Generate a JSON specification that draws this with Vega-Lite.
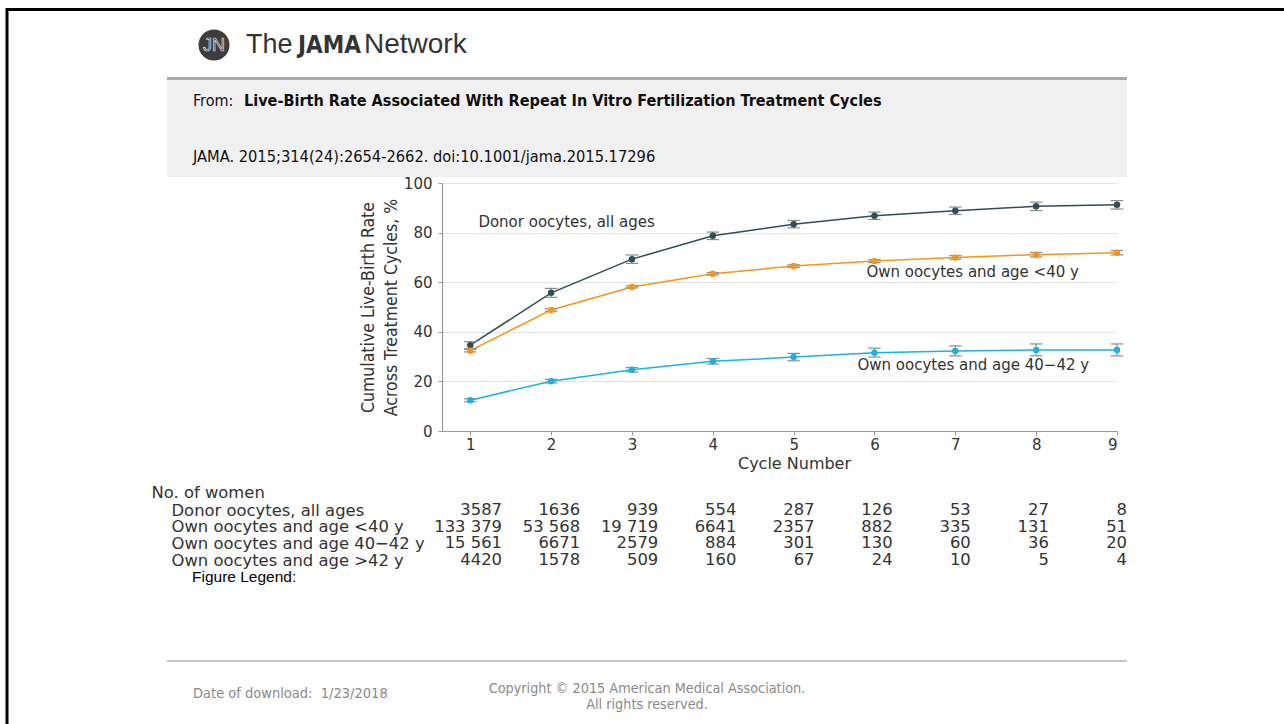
{
  "$schema": "https://vega.github.io/schema/vega-lite/v6.json",
  "width": 675,
  "height": 248,
  "autosize": {"type": "none"},
  "padding": {"left": 442, "top": 183, "right": 167, "bottom": 293},
  "background": "white",
  "config": {"view": {"stroke": null}, "font": "DejaVu Sans"},
  "datasets": {
    "rates": [
      {"cycle": 1, "group": "Donor oocytes, all ages", "rate": 34.6, "lo": 33.2, "hi": 36.0},
      {"cycle": 2, "group": "Donor oocytes, all ages", "rate": 55.7, "lo": 53.9, "hi": 57.5},
      {"cycle": 3, "group": "Donor oocytes, all ages", "rate": 69.3, "lo": 67.6, "hi": 71.0},
      {"cycle": 4, "group": "Donor oocytes, all ages", "rate": 78.7, "lo": 77.2, "hi": 80.2},
      {"cycle": 5, "group": "Donor oocytes, all ages", "rate": 83.4, "lo": 81.9, "hi": 84.9},
      {"cycle": 6, "group": "Donor oocytes, all ages", "rate": 86.8, "lo": 85.3, "hi": 88.3},
      {"cycle": 7, "group": "Donor oocytes, all ages", "rate": 88.8, "lo": 87.3, "hi": 90.3},
      {"cycle": 8, "group": "Donor oocytes, all ages", "rate": 90.6, "lo": 88.9, "hi": 92.3},
      {"cycle": 9, "group": "Donor oocytes, all ages", "rate": 91.2, "lo": 89.5, "hi": 92.9},
      {"cycle": 1, "group": "Own oocytes and age <40 y", "rate": 32.4, "lo": 31.9, "hi": 32.9},
      {"cycle": 2, "group": "Own oocytes and age <40 y", "rate": 48.8, "lo": 48.3, "hi": 49.3},
      {"cycle": 3, "group": "Own oocytes and age <40 y", "rate": 58.1, "lo": 57.7, "hi": 58.5},
      {"cycle": 4, "group": "Own oocytes and age <40 y", "rate": 63.4, "lo": 62.9, "hi": 63.9},
      {"cycle": 5, "group": "Own oocytes and age <40 y", "rate": 66.5, "lo": 66.0, "hi": 67.0},
      {"cycle": 6, "group": "Own oocytes and age <40 y", "rate": 68.5, "lo": 67.9, "hi": 69.1},
      {"cycle": 7, "group": "Own oocytes and age <40 y", "rate": 70.0, "lo": 69.3, "hi": 70.7},
      {"cycle": 8, "group": "Own oocytes and age <40 y", "rate": 71.1, "lo": 70.2, "hi": 72.0},
      {"cycle": 9, "group": "Own oocytes and age <40 y", "rate": 71.9, "lo": 71.0, "hi": 72.8},
      {"cycle": 1, "group": "Own oocytes and age 40−42 y", "rate": 12.4, "lo": 11.8, "hi": 13.0},
      {"cycle": 2, "group": "Own oocytes and age 40−42 y", "rate": 20.1, "lo": 19.4, "hi": 20.8},
      {"cycle": 3, "group": "Own oocytes and age 40−42 y", "rate": 24.7, "lo": 23.8, "hi": 25.6},
      {"cycle": 4, "group": "Own oocytes and age 40−42 y", "rate": 28.1, "lo": 27.0, "hi": 29.2},
      {"cycle": 5, "group": "Own oocytes and age 40−42 y", "rate": 29.8, "lo": 28.3, "hi": 31.3},
      {"cycle": 6, "group": "Own oocytes and age 40−42 y", "rate": 31.6, "lo": 29.8, "hi": 33.4},
      {"cycle": 7, "group": "Own oocytes and age 40−42 y", "rate": 32.3, "lo": 30.3, "hi": 34.3},
      {"cycle": 8, "group": "Own oocytes and age 40−42 y", "rate": 32.7, "lo": 30.3, "hi": 35.1},
      {"cycle": 9, "group": "Own oocytes and age 40−42 y", "rate": 32.7, "lo": 30.3, "hi": 35.1}
    ],
    "counts": [
      {"cycle": 1, "group": "Donor oocytes, all ages", "n": 3587, "label": "3587"},
      {"cycle": 2, "group": "Donor oocytes, all ages", "n": 1636, "label": "1636"},
      {"cycle": 3, "group": "Donor oocytes, all ages", "n": 939, "label": "939"},
      {"cycle": 4, "group": "Donor oocytes, all ages", "n": 554, "label": "554"},
      {"cycle": 5, "group": "Donor oocytes, all ages", "n": 287, "label": "287"},
      {"cycle": 6, "group": "Donor oocytes, all ages", "n": 126, "label": "126"},
      {"cycle": 7, "group": "Donor oocytes, all ages", "n": 53, "label": "53"},
      {"cycle": 8, "group": "Donor oocytes, all ages", "n": 27, "label": "27"},
      {"cycle": 9, "group": "Donor oocytes, all ages", "n": 8, "label": "8"},
      {"cycle": 1, "group": "Own oocytes and age <40 y", "n": 133379, "label": "133 379"},
      {"cycle": 2, "group": "Own oocytes and age <40 y", "n": 53568, "label": "53 568"},
      {"cycle": 3, "group": "Own oocytes and age <40 y", "n": 19719, "label": "19 719"},
      {"cycle": 4, "group": "Own oocytes and age <40 y", "n": 6641, "label": "6641"},
      {"cycle": 5, "group": "Own oocytes and age <40 y", "n": 2357, "label": "2357"},
      {"cycle": 6, "group": "Own oocytes and age <40 y", "n": 882, "label": "882"},
      {"cycle": 7, "group": "Own oocytes and age <40 y", "n": 335, "label": "335"},
      {"cycle": 8, "group": "Own oocytes and age <40 y", "n": 131, "label": "131"},
      {"cycle": 9, "group": "Own oocytes and age <40 y", "n": 51, "label": "51"},
      {"cycle": 1, "group": "Own oocytes and age 40−42 y", "n": 15561, "label": "15 561"},
      {"cycle": 2, "group": "Own oocytes and age 40−42 y", "n": 6671, "label": "6671"},
      {"cycle": 3, "group": "Own oocytes and age 40−42 y", "n": 2579, "label": "2579"},
      {"cycle": 4, "group": "Own oocytes and age 40−42 y", "n": 884, "label": "884"},
      {"cycle": 5, "group": "Own oocytes and age 40−42 y", "n": 301, "label": "301"},
      {"cycle": 6, "group": "Own oocytes and age 40−42 y", "n": 130, "label": "130"},
      {"cycle": 7, "group": "Own oocytes and age 40−42 y", "n": 60, "label": "60"},
      {"cycle": 8, "group": "Own oocytes and age 40−42 y", "n": 36, "label": "36"},
      {"cycle": 9, "group": "Own oocytes and age 40−42 y", "n": 20, "label": "20"},
      {"cycle": 1, "group": "Own oocytes and age >42 y", "n": 4420, "label": "4420"},
      {"cycle": 2, "group": "Own oocytes and age >42 y", "n": 1578, "label": "1578"},
      {"cycle": 3, "group": "Own oocytes and age >42 y", "n": 509, "label": "509"},
      {"cycle": 4, "group": "Own oocytes and age >42 y", "n": 160, "label": "160"},
      {"cycle": 5, "group": "Own oocytes and age >42 y", "n": 67, "label": "67"},
      {"cycle": 6, "group": "Own oocytes and age >42 y", "n": 24, "label": "24"},
      {"cycle": 7, "group": "Own oocytes and age >42 y", "n": 10, "label": "10"},
      {"cycle": 8, "group": "Own oocytes and age >42 y", "n": 5, "label": "5"},
      {"cycle": 9, "group": "Own oocytes and age >42 y", "n": 4, "label": "4"}
    ]
  },
  "layer": [
    {
      "data": {"name": "rates"},
      "mark": {"type": "line", "strokeWidth": 1.5},
      "encoding": {
        "x": {
          "field": "cycle", "type": "quantitative",
          "scale": {"domain": [0.65, 9], "nice": false, "zero": false},
          "axis": {
            "title": "Cycle Number", "values": [1, 2, 3, 4, 5, 6, 7, 8, 9], "format": "d", "grid": false,
            "domainColor": "#999999", "domainWidth": 1.2, "tickColor": "#999999", "tickSize": 4,
            "labelFont": "DejaVu Sans", "labelFontSize": 15, "labelColor": "#333333", "labelPadding": 2,
            "titleFont": "DejaVu Sans", "titleFontSize": 16, "titleFontWeight": "normal", "titleColor": "#333333",
            "titleX": 352, "titleY": 32, "titleBaseline": "middle", "titleAlign": "center"
          }
        },
        "y": {
          "field": "rate", "type": "quantitative",
          "scale": {"domain": [0, 100], "nice": false, "zero": false},
          "axis": {
            "title": ["Cumulative Live-Birth Rate", "Across Treatment Cycles, %"],
            "values": [0, 20, 40, 60, 80, 100], "grid": true,
            "domainColor": "#999999", "domainWidth": 1.2, "tickColor": "#999999", "tickSize": 4,
            "labelFont": "DejaVu Sans", "labelFontSize": 15, "labelColor": "#333333", "labelPadding": 6,
            "gridColor": "#e3e3e3", "gridWidth": 1.2,
            "titleFont": "DejaVu Sans Condensed", "titleFontSize": 17.5, "titleFontWeight": "normal", "titleColor": "#333333",
            "titleLineHeight": 23, "titleX": -74, "titleY": 124, "titleBaseline": "middle", "titleAlign": "center", "titleAngle": -90
          }
        },
        "color": {
          "field": "group", "type": "nominal",
          "scale": {"domain": ["Donor oocytes, all ages", "Own oocytes and age <40 y", "Own oocytes and age 40−42 y"], "range": ["#2f4e5a", "#f7941d", "#1ab0e8"]},
          "legend": null
        }
      }
    },
    {
      "data": {"name": "rates"},
      "mark": {"type": "rule", "strokeWidth": 1.2, "color": "#8c8c8c"},
      "encoding": {
        "x": {"field": "cycle", "type": "quantitative", "scale": {"domain": [0.65, 9], "nice": false, "zero": false}, "axis": null},
        "y": {"field": "lo", "type": "quantitative", "scale": {"domain": [0, 100], "nice": false, "zero": false}, "axis": null},
        "y2": {"field": "hi"}
      }
    },
    {
      "data": {"name": "rates"},
      "mark": {"type": "point", "shape": "M-1,0H1", "size": 156, "filled": false, "strokeWidth": 1.2, "opacity": 1, "color": "#8c8c8c"},
      "encoding": {
        "x": {"field": "cycle", "type": "quantitative", "scale": {"domain": [0.65, 9], "nice": false, "zero": false}, "axis": null},
        "y": {"field": "lo", "type": "quantitative", "scale": {"domain": [0, 100], "nice": false, "zero": false}, "axis": null}
      }
    },
    {
      "data": {"name": "rates"},
      "mark": {"type": "point", "shape": "M-1,0H1", "size": 156, "filled": false, "strokeWidth": 1.2, "opacity": 1, "color": "#8c8c8c"},
      "encoding": {
        "x": {"field": "cycle", "type": "quantitative", "scale": {"domain": [0.65, 9], "nice": false, "zero": false}, "axis": null},
        "y": {"field": "hi", "type": "quantitative", "scale": {"domain": [0, 100], "nice": false, "zero": false}, "axis": null}
      }
    },
    {
      "data": {"name": "rates"},
      "mark": {"type": "circle", "size": 42, "opacity": 1},
      "encoding": {
        "x": {"field": "cycle", "type": "quantitative", "scale": {"domain": [0.65, 9], "nice": false, "zero": false}, "axis": null},
        "y": {"field": "rate", "type": "quantitative", "scale": {"domain": [0, 100], "nice": false, "zero": false}, "axis": null},
        "color": {"field": "group", "type": "nominal", "legend": null}
      }
    },
    {
      "data": {"values": [{}]},
      "mark": {"type": "text", "text": "Donor oocytes, all ages", "fontSize": 15, "align": "left", "baseline": "middle", "color": "#333333"},
      "encoding": {
        "x": {"datum": 1.1, "type": "quantitative", "scale": {"domain": [0.65, 9], "nice": false, "zero": false}, "axis": null},
        "y": {"datum": 84.4, "type": "quantitative", "scale": {"domain": [0, 100], "nice": false, "zero": false}, "axis": null}
      }
    },
    {
      "data": {"values": [{}]},
      "mark": {"type": "text", "text": "Own oocytes and age <40 y", "fontSize": 15, "align": "left", "baseline": "middle", "color": "#333333"},
      "encoding": {
        "x": {"datum": 5.9, "type": "quantitative", "scale": {"domain": [0.65, 9], "nice": false, "zero": false}, "axis": null},
        "y": {"datum": 64.2, "type": "quantitative", "scale": {"domain": [0, 100], "nice": false, "zero": false}, "axis": null}
      }
    },
    {
      "data": {"values": [{}]},
      "mark": {"type": "text", "text": "Own oocytes and age 40−42 y", "fontSize": 15, "align": "left", "baseline": "middle", "color": "#333333"},
      "encoding": {
        "x": {"datum": 5.79, "type": "quantitative", "scale": {"domain": [0.65, 9], "nice": false, "zero": false}, "axis": null},
        "y": {"datum": 26.6, "type": "quantitative", "scale": {"domain": [0, 100], "nice": false, "zero": false}, "axis": null}
      }
    },
    {
      "data": {"name": "counts"},
      "mark": {"type": "text", "align": "right", "baseline": "middle", "fontSize": 16.4, "color": "#333333"},
      "encoding": {
        "x": {"field": "cycle", "type": "quantitative", "scale": {"domain": [1, 9], "range": [60, 685], "nice": false, "zero": false}, "axis": null},
        "y": {
          "field": "group", "type": "nominal",
          "scale": {"type": "point", "domain": ["Donor oocytes, all ages", "Own oocytes and age <40 y", "Own oocytes and age 40−42 y", "Own oocytes and age >42 y"], "range": [327, 377], "padding": 0},
          "axis": {
            "orient": "left", "offset": 271, "domain": false, "ticks": false, "tickSize": 0, "grid": false,
            "labelAlign": "left", "labelBaseline": "middle", "labelPadding": 0, "labelLimit": 0, "labelOverlap": false,
            "labelFont": "DejaVu Sans", "labelFontSize": 16.4, "labelColor": "#333333",
            "title": "No. of women", "titleAngle": 0, "titleAlign": "left", "titleBaseline": "middle",
            "titleX": -20, "titleY": 309.7, "titleFont": "DejaVu Sans", "titleFontSize": 16.4, "titleFontWeight": "normal", "titleColor": "#333333"
          }
        },
        "text": {"field": "label"}
      }
    },
    {
      "data": {"values": [{}]},
      "layer": [
        {"mark": {"type": "rule", "color": "#000000", "strokeWidth": 3}, "encoding": {"x": {"value": -436}, "x2": {"value": 842}, "y": {"value": -173.5}}},
        {"mark": {"type": "rule", "color": "#000000", "strokeWidth": 3}, "encoding": {"x": {"value": -435}, "y": {"value": -175}, "y2": {"value": 541}}},
        {"mark": {"type": "rect", "color": "#f0f0f0"}, "encoding": {"x": {"value": -275}, "x2": {"value": 685}, "y": {"value": -103}, "y2": {"value": -6}}},
        {"mark": {"type": "rule", "color": "#a9a9a9", "strokeWidth": 3}, "encoding": {"x": {"value": -275}, "x2": {"value": 685}, "y": {"value": -104.5}}},
        {"mark": {"type": "circle", "size": 960, "color": "#3d3d3d", "opacity": 1}, "encoding": {"x": {"value": -228}, "y": {"value": -138}}},
        {"mark": {"type": "text", "text": "JN", "font": "Liberation Sans", "fontSize": 18, "fill": "#3d3d3d", "stroke": "#dddddd", "strokeWidth": 0.7, "align": "center", "baseline": "middle"}, "encoding": {"x": {"value": -228}, "y": {"value": -137}}},
        {"mark": {"type": "text", "text": "The", "font": "Liberation Sans", "fontSize": 27, "color": "#333333", "align": "left", "baseline": "alphabetic"}, "encoding": {"x": {"value": -196}, "y": {"value": -130}}},
        {"mark": {"type": "text", "text": "JAMA", "font": "DejaVu Sans Condensed", "fontWeight": "bold", "fontSize": 24, "color": "#333333", "align": "left", "baseline": "alphabetic"}, "encoding": {"x": {"value": -144}, "y": {"value": -130}}},
        {"mark": {"type": "text", "text": "Network", "font": "Liberation Sans", "fontSize": 28, "color": "#333333", "align": "left", "baseline": "alphabetic"}, "encoding": {"x": {"value": -78}, "y": {"value": -130}}},
        {"mark": {"type": "text", "text": "From:", "font": "DejaVu Sans Condensed", "fontSize": 16, "color": "#111111", "align": "left", "baseline": "alphabetic"}, "encoding": {"x": {"value": -249}, "y": {"value": -77}}},
        {"mark": {"type": "text", "text": "Live-Birth Rate Associated With Repeat In Vitro Fertilization Treatment Cycles", "font": "DejaVu Sans Condensed", "fontWeight": "bold", "fontSize": 16.1, "color": "#111111", "align": "left", "baseline": "alphabetic"}, "encoding": {"x": {"value": -198}, "y": {"value": -77}}},
        {"mark": {"type": "text", "text": "JAMA. 2015;314(24):2654-2662. doi:10.1001/jama.2015.17296", "font": "DejaVu Sans Condensed", "fontSize": 16.3, "color": "#111111", "align": "left", "baseline": "alphabetic"}, "encoding": {"x": {"value": -249}, "y": {"value": -21}}},
        {"mark": {"type": "text", "text": "Figure Legend:", "font": "Liberation Sans", "fontSize": 15.5, "color": "#000000", "align": "left", "baseline": "middle"}, "encoding": {"x": {"value": -250}, "y": {"value": 394}}},
        {"mark": {"type": "rule", "color": "#b0b0b0", "strokeWidth": 1.5}, "encoding": {"x": {"value": -275}, "x2": {"value": 685}, "y": {"value": 478}}},
        {"mark": {"type": "text", "text": "Date of download:\u00a0 1/23/2018", "font": "DejaVu Sans Condensed", "fontSize": 14.5, "color": "#8a8a8a", "align": "left", "baseline": "middle"}, "encoding": {"x": {"value": -249}, "y": {"value": 511}}},
        {"mark": {"type": "text", "text": ["Copyright © 2015 American Medical Association.", "All rights reserved."], "lineHeight": 16, "font": "DejaVu Sans Condensed", "fontSize": 14.3, "color": "#8a8a8a", "align": "center", "baseline": "middle"}, "encoding": {"x": {"value": 205}, "y": {"value": 506}}}
      ]
    }
  ],
  "resolve": {"scale": {"x": "independent", "y": "independent"}}
}
